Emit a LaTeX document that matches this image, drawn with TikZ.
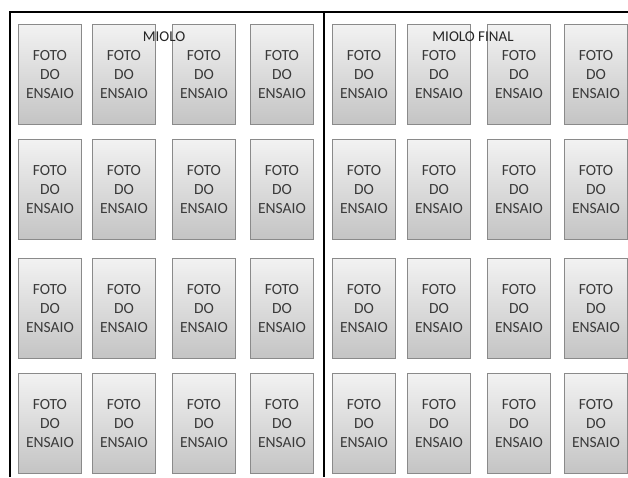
\documentclass[tikz,border=0pt]{standalone}
\usepackage{fontspec}
\setmainfont{Carlito}
\usetikzlibrary{shadows}
\definecolor{boxtop}{HTML}{F2F2F2}
\definecolor{boxbot}{HTML}{C4C4C4}
\definecolor{boxline}{HTML}{8A8A8A}
\definecolor{txt}{HTML}{3A3A3A}
\begin{document}
\begin{tikzpicture}[x=1pt,y=-1pt,
  foto/.style={draw=boxline, line width=0.8pt, top color=boxtop, bottom color=boxbot,
    minimum width=63pt, minimum height=100pt, inner sep=0pt, anchor=north west,
    align=center, text=txt, font=\fontsize{15.5}{19}\selectfont,
    drop shadow={shadow xshift=0.8pt, shadow yshift=-0.8pt, fill=black, opacity=0.15}},
  lbl/.style={font=\fontsize{15}{18}\selectfont, text=black!85, inner sep=0pt},
  frame/.style={line width=2pt, black}]
\useasboundingbox (0,0) rectangle (628,477);
\fill[white] (0,0) rectangle (628,477);
\foreach \c/\x in {1/18,2/92,3/172,4/250,5/332,6/407,7/487,8/564}{
  \foreach \r/\y in {1/24,2/139,3/258,4/373}{
    \node[foto] (b\r\c) at (\x,\y) {FOTO\\DO\\ENSAIO};
  }
}
\coordinate (tl) at (10,12);
\coordinate (bl) at (10,477);
\coordinate (tr) at (628,12);
\coordinate (dt) at (324,12);
\coordinate (db) at (324,477);
\draw[frame] (bl) -- (tl) -- (tr);
\draw[frame] (dt) -- (db);
\node[lbl] (miolo) at (164,37) {MIOLO};
\node[lbl] (mfinal) at (473,37) {MIOLO FINAL};
\end{tikzpicture}
\end{document}
